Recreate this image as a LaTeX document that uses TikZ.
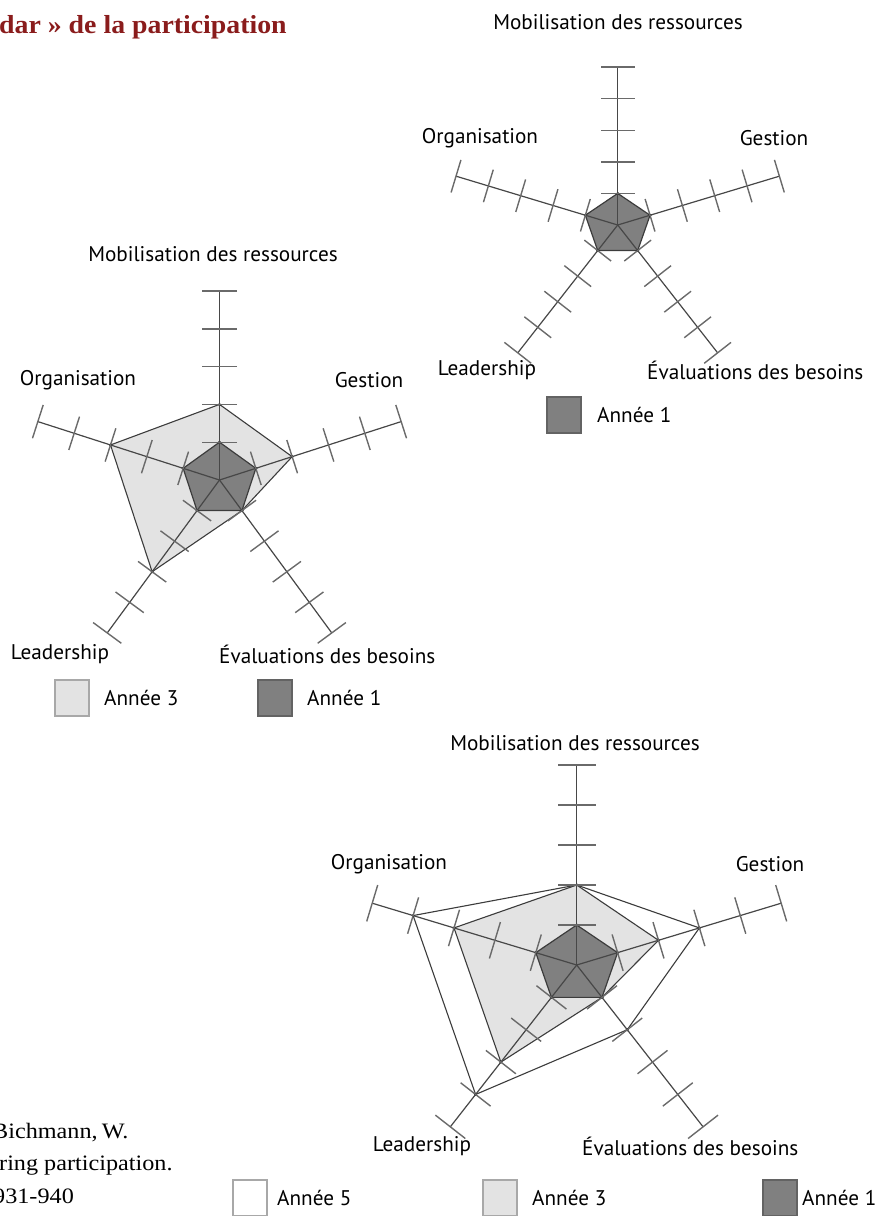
\documentclass[tikz,border=0pt]{standalone}
\usepackage{fontspec}
\setmainfont{PT Sans}
\newfontfamily\seriff{Liberation Serif}
\usetikzlibrary{calc}
\definecolor{titlered}{HTML}{8A1C1C}
\definecolor{axisc}{HTML}{474747}
\definecolor{tickc}{HTML}{6A6A6A}
\definecolor{darkf}{HTML}{808080}
\definecolor{lightf}{HTML}{E3E3E3}
\definecolor{edgec}{HTML}{3C3C3C}
\definecolor{legedge}{HTML}{A8A8A8}
\tikzset{
 axisline/.style={draw=axisc, line width=1.2pt},
 tickline/.style={draw=tickc, line width=1.4pt},
 yearone/.style={fill=darkf, draw=edgec, line width=1.2pt, line join=round},
 yearthree/.style={fill=lightf, draw=edgec, line width=1.1pt, line join=round},
 yearfive/.style={fill=white, draw=edgec, line width=1.1pt, line join=round},
 lab/.style={font=\fontsize{21.2}{25}\selectfont, inner sep=0pt},
 legbox/.style={minimum width=34pt, minimum height=36pt, inner sep=0pt, line width=1.3pt},
 ser/.style={font=\seriff\fontsize{22}{26}\selectfont, inner sep=0pt, anchor=west},
}
\newcommand\radarcoords[5]{%
  \coordinate (#1c) at (#2,#3);
  \foreach \k in {0,...,4}{\foreach \r in {1,...,5}{
    \coordinate (#1-\k-\r) at ({#2+\r*#4*cos(90+72*\k)},{#3-\r*#5*sin(90+72*\k)});}}}
\newcommand\radaraxes[2]{%
  \foreach \k in {0,...,4}{
    \draw[axisline] (#1c) -- (#1-\k-5);
    \foreach \r in {1,...,5}{
      \draw[tickline] ($(#1-\k-\r)!#2pt!90:(#1c)$) -- ($(#1-\k-\r)!#2pt!-90:(#1c)$);}}}
\newcommand\radarpoly[7]{%
  \draw[#2] (#1-0-#3) -- (#1-1-#4) -- (#1-2-#5) -- (#1-3-#6) -- (#1-4-#7) -- cycle;
  \foreach \p in {#1-0-#3,#1-1-#4,#1-2-#5,#1-3-#6,#1-4-#7}{\fill[black] (\p) circle (1.6pt);}}
\begin{document}
\begin{tikzpicture}[x=1pt,y=-1pt]
\useasboundingbox (0,0) rectangle (877,1216);
% title and source
\node[anchor=west, text=titlered, font=\seriff\bfseries\fontsize{26}{30}\selectfont, inner sep=0pt] (title) at (-1,27) {\scalebox{1.07}[1]{dar » de la participation}};
\node[ser] (src1) at (-8,1133) {\scalebox{1.1}[1]{Bichmann,\,W.}};
\node[ser] (src2) at (-1,1166) {\scalebox{1.1}[1]{ring participation.}};
\node[ser] (src3) at (-7,1196) {\scalebox{1.1}[1]{931-940}};
% ---------- chart A (top right) ----------
\radarcoords{A}{617.7}{225}{34}{31.6}
\radarpoly{A}{yearone}{1}{1}{1}{1}{1}
\radaraxes{A}{17}
\node[lab] (A-mob) at (618,22) {Mobilisation des ressources};
\node[lab] (A-org) at (480,138) {Organisation};
\node[lab] (A-ges) at (774,138) {Gestion};
\node[lab] (A-lea) at (487,370) {Leadership};
\node[lab, anchor=west] (A-eva) at (647,370) {Évaluations des besoins};
\node[legbox, fill=darkf, draw=edgec!80] (A-leg1) at (564,415) {};
\node[lab, anchor=west] (A-leg1t) at (597,415) {Année 1};
% ---------- chart B (left) ----------
\radarcoords{B}{219.5}{480}{38.2}{37.8}
\radarpoly{B}{yearthree}{2}{3}{3}{1}{2}
\radarpoly{B}{yearone}{1}{1}{1}{1}{1}
\radaraxes{B}{17.5}
\node[lab] (B-mob) at (213,254) {Mobilisation des ressources};
\node[lab] (B-org) at (78,380) {Organisation};
\node[lab] (B-ges) at (369,380) {Gestion};
\node[lab] (B-lea) at (60,654) {Leadership};
\node[lab, anchor=west] (B-eva) at (219,654) {Évaluations des besoins};
\node[legbox, fill=lightf, draw=legedge] (B-leg3) at (72,698) {};
\node[lab, anchor=west] (B-leg3t) at (104,698) {Année 3};
\node[legbox, fill=darkf, draw=edgec!80] (B-leg1) at (275,698) {};
\node[lab, anchor=west] (B-leg1t) at (307,698) {Année 1};
% ---------- chart C (bottom right) ----------
\radarcoords{C}{576.7}{965}{43}{40}
\radarpoly{C}{yearfive}{2}{4}{4}{2}{3}
\radarpoly{C}{yearthree}{2}{3}{3}{1}{2}
\radarpoly{C}{yearone}{1}{1}{1}{1}{1}
\radaraxes{C}{19}
\node[lab] (C-mob) at (575,743) {Mobilisation des ressources};
\node[lab] (C-org) at (389,864) {Organisation};
\node[lab] (C-ges) at (770,864) {Gestion};
\node[lab] (C-lea) at (422,1146) {Leadership};
\node[lab, anchor=west] (C-eva) at (582,1146) {Évaluations des besoins};
\node[legbox, fill=white, draw=legedge] (C-leg5) at (250,1198) {};
\node[lab, anchor=west] (C-leg5t) at (277,1198) {Année 5};
\node[legbox, fill=lightf, draw=legedge] (C-leg3) at (500,1198) {};
\node[lab, anchor=west] (C-leg3t) at (532,1198) {Année 3};
\node[legbox, fill=darkf, draw=edgec!80] (C-leg1) at (780,1198) {};
\node[lab, anchor=west] (C-leg1t) at (802,1198) {Année 1};
\end{tikzpicture}
\end{document}
